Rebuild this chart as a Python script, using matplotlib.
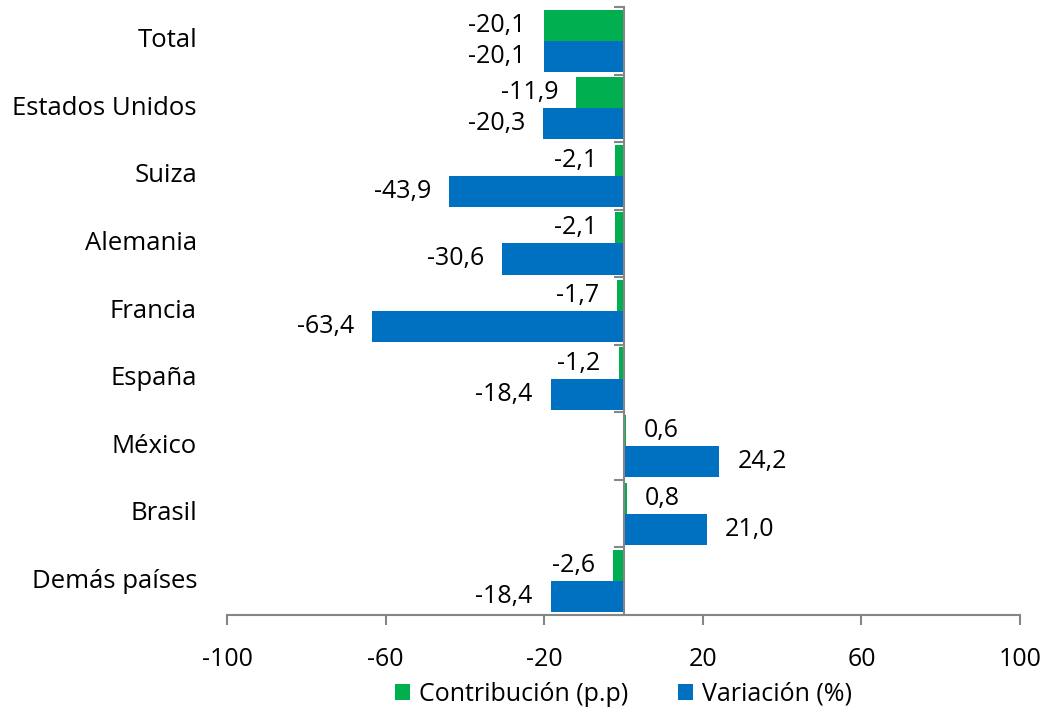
import matplotlib
matplotlib.use("Agg")
import matplotlib.pyplot as plt
import matplotlib.transforms as mtransforms
import numpy as np

categories = ["Total", "Estados Unidos", "Suiza", "Alemania", "Francia",
              "España", "México", "Brasil", "Demás países"]
contribucion = [-20.1, -11.9, -2.1, -2.1, -1.7, -1.2, 0.6, 0.8, -2.6]
variacion = [-20.1, -20.3, -43.9, -30.6, -63.4, -18.4, 24.2, 21.0, -18.4]
xticks = [-100, -60, -20, 20, 60, 100]

plt.rcParams['font.family'] = ['Open Sans', 'DejaVu Sans']
FS = 18
GREEN = "#00B050"
BLUE = "#0070C0"
GRAY = "#868686"

fig = plt.figure(figsize=(10.54, 7.15), dpi=100)
ax = fig.add_axes([227/1054, 1-615/715, (1020-227)/1054, 608/715])

y = np.arange(len(categories))
h = 0.46
b1 = ax.barh(y - h/2, contribucion, height=h, color=GREEN, zorder=2)
b2 = ax.barh(y + h/2, variacion, height=h, color=BLUE, zorder=2)

fmt = lambda v: f"{v:.1f}".replace('.', ',')
for bars, vals in ((b1, contribucion), (b2, variacion)):
    texts = ax.bar_label(bars, labels=[fmt(v) for v in vals], padding=13, fontsize=FS)
    for t in texts:
        t.set_transform(t.get_transform() + mtransforms.ScaledTranslation(0, -2/72, fig.dpi_scale_trans))

ax.set_xlim(-100, 100)
ax.set_ylim(len(categories) - 0.5, -0.5)
ax.set_xticks(xticks)
ax.set_xticklabels([str(t) for t in xticks], fontsize=FS)
ax.tick_params(axis='x', length=7, width=1.5, color=GRAY, pad=16)

ax.spines['left'].set_position(('data', 0))
ax.set_yticks(np.arange(-0.5, len(categories), 1))
ax.set_yticklabels([])
ax.tick_params(axis='y', length=7, width=1.5, color=GRAY)
for s in ['top', 'right']:
    ax.spines[s].set_visible(False)
for s in ['left', 'bottom']:
    ax.spines[s].set_color(GRAY)
    ax.spines[s].set_linewidth(1.5)

trans = mtransforms.blended_transform_factory(ax.transAxes, ax.transData)
for yi, c in zip(y, categories):
    ax.text(-30/793, yi, c, transform=trans, ha='right', va='center', fontsize=18.5)

leg = ax.legend([b1, b2], ["Contribución (p.p)", "Variación (%)"], loc='center',
                bbox_to_anchor=(0.5, -0.13), ncol=2, frameon=False, fontsize=FS,
                handlelength=0.6, handleheight=0.6, handletextpad=0.35,
                columnspacing=2.0)

fig.savefig("out.png", dpi=100)
